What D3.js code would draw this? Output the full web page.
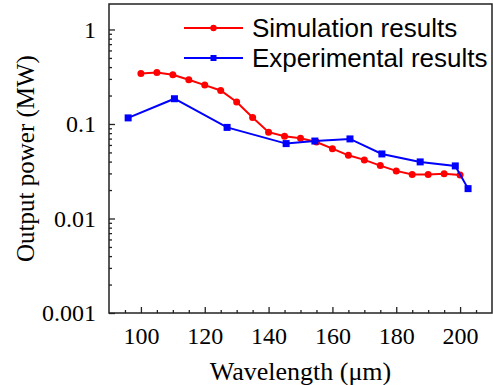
<!DOCTYPE html>
<html>
<meta charset="utf-8">
<head>
<title>output power vs wavelength</title>
<script src="https://d3js.org/d3.v7.min.js"></script>
<style>
  body { margin: 0; background: #fff; }
</style>
</head>
<body>
<div id="plot"></div>
<script>

// data
var simWave = [100, 105, 110, 115, 120, 125, 130, 135, 140, 145, 150, 155, 160, 165, 170, 175, 180, 185, 190, 195, 200];
var simPower = [0.342, 0.351, 0.332, 0.294, 0.258, 0.226, 0.171, 0.117, 0.082, 0.074, 0.0705, 0.0645, 0.0548, 0.0466, 0.0417, 0.0363, 0.0319, 0.0292, 0.0292, 0.0297, 0.0289];

var expWave = [96, 110.5, 127, 145.5, 154.5, 165.5, 175.5, 187.5, 198.5, 202.5];
var expPower = [0.116, 0.185, 0.092, 0.062, 0.066, 0.0695, 0.0482, 0.0397, 0.036, 0.0207];

var xMajor = [100, 120, 140, 160, 180, 200];
var yMajor = [0.001, 0.01, 0.1, 1];
var yLabels = ["0.001", "0.01", "0.1", "1"];

var seriesNames = ["Simulation results", "Experimental results"];
var seriesColors = ["#ff0000", "#0000ff"];

var margin = { top: 4, right: 1, bottom: 72, left: 109 };
var width = 493 - margin.left - margin.right;
var height = 385 - margin.top - margin.bottom;

var xScale = d3.scaleLinear().domain([90, 210]).range([0, width]);
var yScale = d3.scaleLog().domain([0.001, 1.86]).range([height, 0]);

var svg = d3.select("#plot").append("svg")
	.attr("width", 493)
	.attr("height", 385);

var g = svg.append("g")
	.attr("transform", "translate(" + margin.left + "," + margin.top + ")");

// minor tick values
var xMinor = d3.range(95, 210, 5).filter(function(d){ return xMajor.indexOf(d) < 0; });
var yMinor = [];
[0.001, 0.01, 0.1, 1].forEach(function(dec){
	for (var k = 2; k <= 9; k++) {
		var v = dec * k;
		if (v <= 1.86) yMinor.push(v);
	}
});

// x axis
g.append("g")
	.attr("transform", "translate(0," + height + ")")
	.call(d3.axisBottom(xScale).tickValues(xMinor).tickSize(-3).tickFormat(""))
	.call(function(a){ a.select(".domain").remove(); });

var xAx = g.append("g")
	.attr("class", "x axis")
	.attr("transform", "translate(0," + height + ")")
	.call(d3.axisBottom(xScale).tickValues(xMajor).tickSize(-6).tickPadding(14).tickFormat(d3.format("d")));
xAx.select(".domain").remove();

// y axis
g.append("g")
	.call(d3.axisLeft(yScale).tickValues(yMinor).tickSize(-3).tickFormat(""))
	.call(function(a){ a.select(".domain").remove(); });

var yAx = g.append("g")
	.attr("class", "y axis")
	.call(d3.axisLeft(yScale).tickValues(yMajor).tickSize(-6).tickPadding(13)
		.tickFormat(function(d, i){ return yLabels[i]; }));
yAx.select(".domain").remove();

g.selectAll(".tick line").attr("stroke", "#222").attr("stroke-width", 1.3);
g.selectAll(".tick text")
	.attr("font-family", "'Liberation Serif', 'Times New Roman', serif")
	.attr("font-size", "24px")
	.attr("fill", "#000");

// frame
g.append("rect")
	.attr("width", width)
	.attr("height", height)
	.attr("fill", "none")
	.attr("stroke", "#222")
	.attr("stroke-width", 1.5);

// axis titles
svg.append("text")
	.attr("x", margin.left + width / 2)
	.attr("y", 380)
	.attr("text-anchor", "middle")
	.attr("font-family", "'Liberation Serif', 'Times New Roman', serif")
	.attr("font-size", "26px")
	.text("Wavelength (\u03bcm)");

svg.append("text")
	.attr("transform", "translate(34," + (margin.top + height / 2) + ") rotate(-90)")
	.attr("text-anchor", "middle")
	.attr("font-family", "'Liberation Serif', 'Times New Roman', serif")
	.attr("font-size", "25px")
	.text("Output power (MW)");

// series
var line = d3.line()
	.x(function(d){ return xScale(d[0]); })
	.y(function(d){ return yScale(d[1]); });

var simData = simWave.map(function(w, i){ return [w, simPower[i]]; });
var expData = expWave.map(function(w, i){ return [w, expPower[i]]; });

g.append("path")
	.datum(simData)
	.attr("d", line)
	.attr("fill", "none")
	.attr("stroke", seriesColors[0])
	.attr("stroke-width", 2);

g.selectAll(".sim")
	.data(simData)
	.enter()
	.append("circle")
	.attr("class", "sim")
	.attr("cx", function(d){ return xScale(d[0]); })
	.attr("cy", function(d){ return yScale(d[1]); })
	.attr("r", 3.5)
	.attr("fill", seriesColors[0]);

g.append("path")
	.datum(expData)
	.attr("d", line)
	.attr("fill", "none")
	.attr("stroke", seriesColors[1])
	.attr("stroke-width", 2);

g.selectAll(".exp")
	.data(expData)
	.enter()
	.append("rect")
	.attr("class", "exp")
	.attr("x", function(d){ return xScale(d[0]) - 3.5; })
	.attr("y", function(d){ return yScale(d[1]) - 3.5; })
	.attr("width", 7)
	.attr("height", 7)
	.attr("fill", seriesColors[1]);

// legend
var legend = svg.append("g")
	.attr("transform", "translate(184,28)");

seriesNames.forEach(function(name, i){
	var row = legend.append("g").attr("transform", "translate(0," + (i * 30) + ")");
	row.append("line")
		.attr("x1", 0).attr("x2", 59)
		.attr("stroke", seriesColors[i])
		.attr("stroke-width", 2);
	if (i === 0) {
		row.append("circle").attr("cx", 29.5).attr("r", 3.2).attr("fill", seriesColors[i]);
	} else {
		row.append("rect").attr("x", 26.5).attr("y", -3).attr("width", 6).attr("height", 6).attr("fill", seriesColors[i]);
	}
	row.append("text")
		.attr("x", 68)
		.attr("y", 8.5)
		.attr("font-family", "'Liberation Sans', Arial, sans-serif")
		.attr("font-size", "26px")
		.text(name);
});

</script>
</body>
</html>
